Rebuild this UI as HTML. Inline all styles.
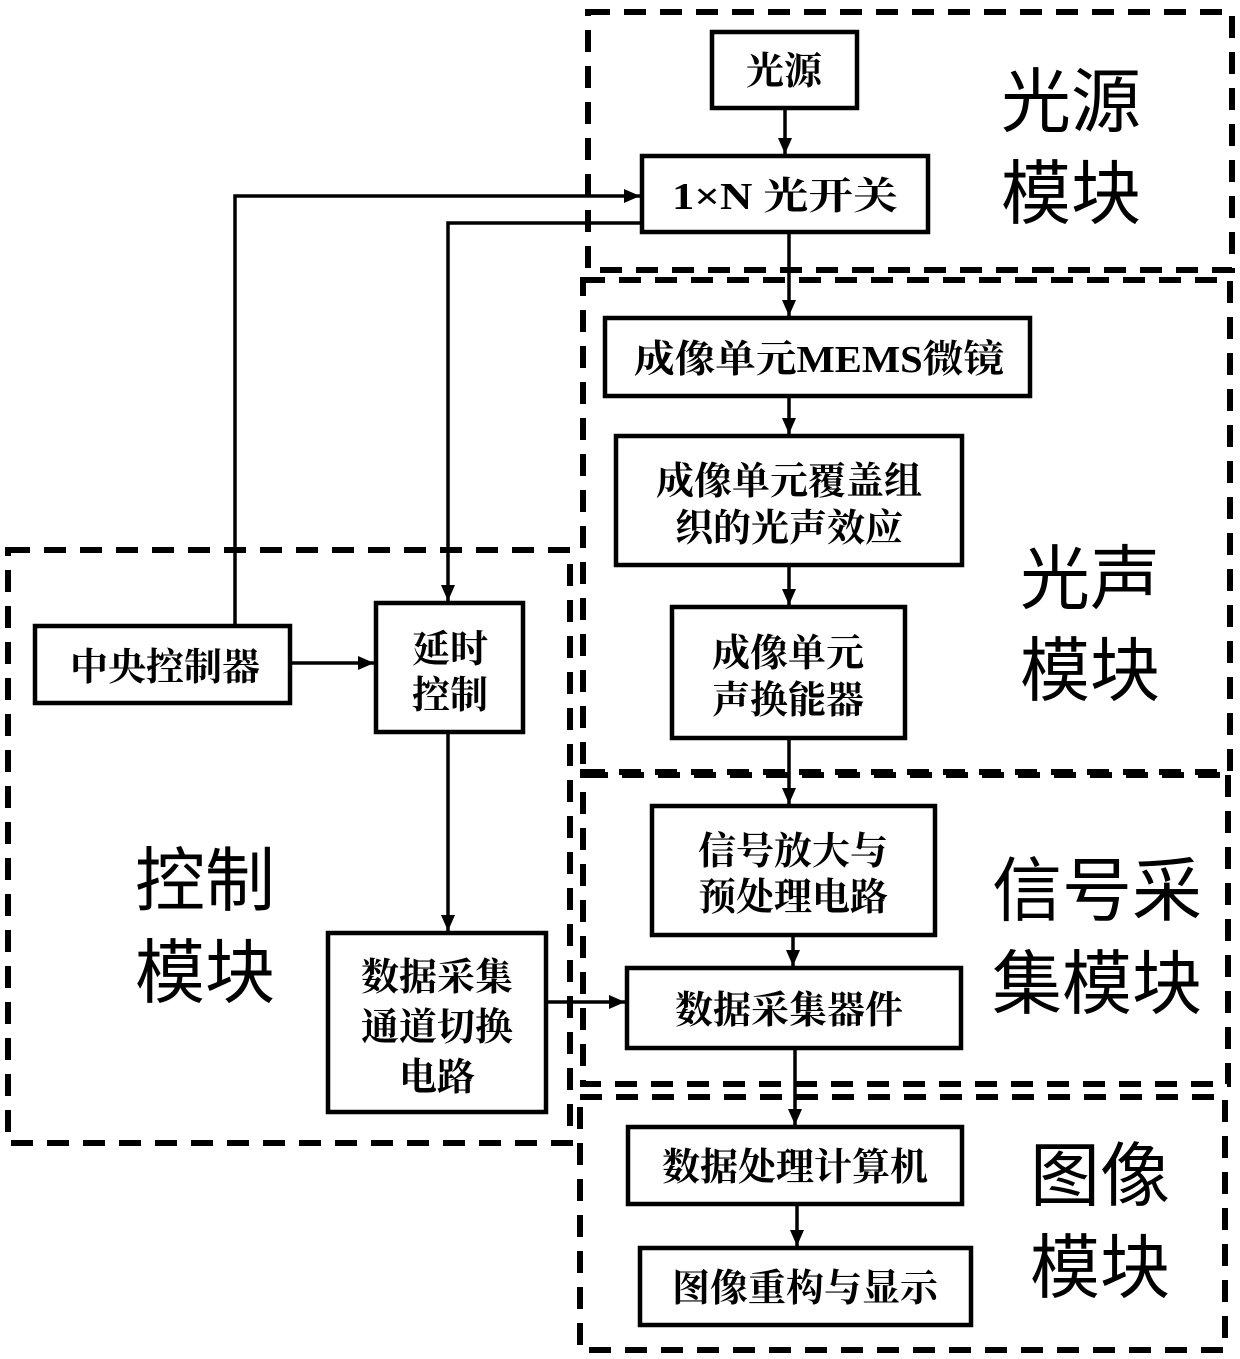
<!DOCTYPE html>
<html><head><meta charset="utf-8"><style>
html,body{margin:0;padding:0;background:#fff}
svg{display:block}
.t{font-family:"Liberation Serif","Noto Serif CJK SC",serif;font-weight:bold;font-size:38px;fill:#000;text-anchor:middle}
.b{font-family:"Liberation Sans","Noto Sans CJK SC",sans-serif;font-size:70px;fill:#000;text-anchor:middle}
</style></head><body>
<svg width="1240" height="1359" viewBox="0 0 1240 1359" xmlns="http://www.w3.org/2000/svg">
<defs>
<marker id="h" viewBox="0 0 16 14" markerWidth="16" markerHeight="14" refX="16" refY="7" orient="auto" markerUnits="userSpaceOnUse"><path d="M0,0 L16,7 L0,14 z" fill="#000"/></marker></defs>
<g fill="none" stroke="#000" stroke-width="6" stroke-dasharray="22 14">
<rect x="588" y="12" width="644" height="258"/>
<rect x="583" y="280" width="647" height="495"/>
<rect x="583" y="772" width="645" height="312"/>
<rect x="580" y="1097" width="645" height="253"/>
<rect x="8" y="550" width="562" height="593"/>
</g>
<g fill="#fff" stroke="#000" stroke-width="4.5">
<rect x="712" y="32" width="145" height="76"/>
<rect x="642" y="156" width="286" height="76"/>
<rect x="605" y="318" width="425" height="78"/>
<rect x="616" y="436" width="346" height="129"/>
<rect x="672" y="607" width="233" height="131"/>
<rect x="652" y="806" width="283" height="129"/>
<rect x="627" y="968" width="334" height="80"/>
<rect x="628" y="1127" width="334" height="77"/>
<rect x="640" y="1248" width="331" height="77"/>
<rect x="35" y="626" width="255" height="77"/>
<rect x="376" y="603" width="147" height="129"/>
<rect x="328" y="933" width="218" height="179"/>
</g>
<g stroke="#000" stroke-width="3.5" fill="none" marker-end="url(#h)">
<path d="M785,110 V154"/>
<path d="M789,234 V316"/>
<path d="M789,398 V434"/>
<path d="M789,567 V605"/>
<path d="M789,740 V804"/>
<path d="M793,937 V966"/>
<path d="M795,1050 V1125"/>
<path d="M797,1206 V1246"/>
<path d="M235,624 V196 H640"/>
<path d="M640,223 H448 V601"/>
<path d="M292,663 H374"/>
<path d="M448,734 V931"/>
<path d="M548,1002 H625"/>
</g>
<text class="t" x="784" y="84">光源</text>
<text class="t" x="785" y="209" textLength="226" lengthAdjust="spacingAndGlyphs">1×N 光开关</text>
<text class="t" x="819" y="372" textLength="370" lengthAdjust="spacingAndGlyphs">成像单元MEMS微镜</text>
<text class="t" x="789" y="494">成像单元覆盖组</text>
<text class="t" x="789" y="541">织的光声效应</text>
<text class="t" x="788" y="666">成像单元</text>
<text class="t" x="788" y="713">声换能器</text>
<text class="t" x="793" y="864">信号放大与</text>
<text class="t" x="793" y="910">预处理电路</text>
<text class="t" x="789" y="1023">数据采集器件</text>
<text class="t" x="795" y="1180">数据处理计算机</text>
<text class="t" x="805" y="1301">图像重构与显示</text>
<text class="t" x="165" y="680">中央控制器</text>
<text class="t" x="450" y="662">延时</text>
<text class="t" x="450" y="708">控制</text>
<text class="t" x="437" y="990">数据采集</text>
<text class="t" x="437" y="1040">通道切换</text>
<text class="t" x="437" y="1090">电路</text>
<text class="b" x="1071" y="126">光源</text>
<text class="b" x="1071" y="218">模块</text>
<text class="b" x="1090" y="603">光声</text>
<text class="b" x="1090" y="695">模块</text>
<text class="b" x="1097" y="915">信号采</text>
<text class="b" x="1097" y="1008">集模块</text>
<text class="b" x="1100" y="1200">图像</text>
<text class="b" x="1100" y="1292">模块</text>
<text class="b" x="205" y="905">控制</text>
<text class="b" x="205" y="997">模块</text>
</svg>
</body></html>
